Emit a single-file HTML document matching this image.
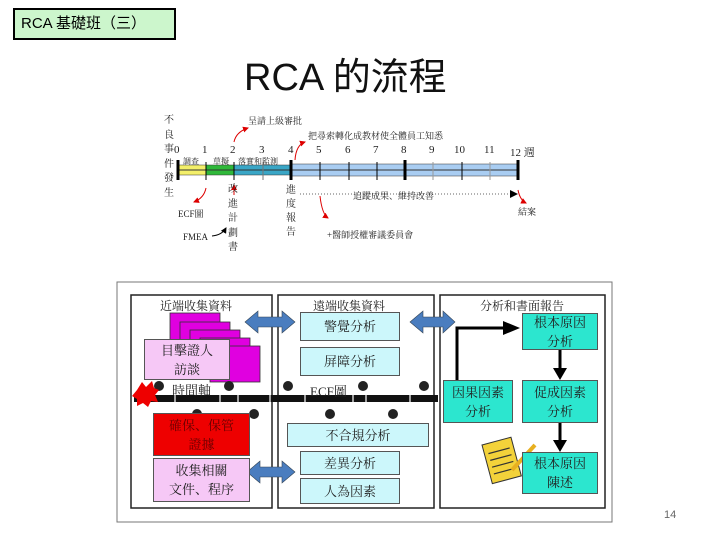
<!DOCTYPE html>
<html><head><meta charset="utf-8"><style>
body{margin:0;width:720px;height:540px;background:#fff;position:relative;overflow:hidden;font-family:"Liberation Sans","Noto Sans CJK TC",sans-serif}
.a{position:absolute}
.t{position:absolute;font-family:"Liberation Serif","Noto Serif CJK SC",serif;font-size:9px;color:#222;white-space:nowrap}
.bx{position:absolute;box-sizing:border-box;border:1px solid #555;display:flex;align-items:center;justify-content:center;text-align:center;font-family:"Liberation Serif","Noto Serif CJK SC",serif;font-size:13px;line-height:19px;color:#222}
.c{background:#ccf7fb}
.g{background:#2ce6cf}
</style></head><body>
<div class="a" style="left:13px;top:8px;height:28px;border:2px solid #000;background:#ccf6cc;font-size:15px;line-height:28px;padding-left:6px;width:153px">RCA 基礎班（三）</div>
<div class="a" style="left:244px;top:46px;font-size:38px;color:#111">RCA 的流程</div>

<svg class="a" style="left:0;top:0" width="720" height="540">
<defs><marker id="m" markerWidth="6" markerHeight="6" refX="5" refY="3" orient="auto"><path d="M0,0L6,3L0,6z" fill="#000"/></marker>
<marker id="r" markerWidth="6" markerHeight="6" refX="5" refY="3" orient="auto"><path d="M0,0L6,3L0,6z" fill="#d00"/></marker></defs>
<rect x="178" y="165" width="28" height="10" fill="#f3ef6a" stroke="#333" stroke-width=".5"/>
<rect x="206" y="165" width="28" height="10" fill="#2fb83a" stroke="#333" stroke-width=".5"/>
<rect x="234" y="165" width="57" height="10" fill="#3aa6c6" stroke="#333" stroke-width=".5"/>
<rect x="291" y="164" width="227" height="12" fill="#a9cdf2" stroke="#333" stroke-width=".5"/>
<line x1="178" y1="170" x2="518" y2="170" stroke="#333" stroke-width="1"/>
<g stroke="#000" stroke-width="1">
<line x1="178" y1="160" x2="178" y2="180" stroke-width="3"/><line x1="206" y1="162" x2="206" y2="180"/><line x1="234" y1="162" x2="234" y2="180"/><line x1="263" y1="162" x2="263" y2="180" stroke="#777"/><line x1="291" y1="160" x2="291" y2="180" stroke-width="3"/><line x1="320" y1="162" x2="320" y2="180"/><line x1="349" y1="162" x2="349" y2="180"/><line x1="377" y1="162" x2="377" y2="180"/><line x1="405" y1="160" x2="405" y2="180" stroke-width="3"/><line x1="433" y1="162" x2="433" y2="180" stroke="#999"/><line x1="462" y1="162" x2="462" y2="180"/><line x1="490" y1="162" x2="490" y2="180" stroke="#999"/><line x1="518" y1="160" x2="518" y2="180" stroke-width="3"/>
</g>
<line x1="300" y1="194" x2="510" y2="194" stroke="#666" stroke-dasharray="1,2"/><path d="M510,190L518,194L510,198z"/>
<g stroke="#d00" fill="none" stroke-width="1"><path d="M206,188Q204,198 194,202" marker-end="url(#r)"/><path d="M234,142Q236,132 248,128" marker-end="url(#r)"/><path d="M295,160Q296,145 305,142" marker-end="url(#r)"/><path d="M320,196Q322,214 328,218" marker-end="url(#r)"/><path d="M518,190Q520,200 526,203" marker-end="url(#r)"/><path d="M234,195L234,185" marker-end="url(#r)"/></g>
<path d="M212,236Q222,235 226,228" stroke="#000" fill="none" marker-end="url(#m)"/>

<rect x="117" y="282" width="495" height="240" fill="none" stroke="#777"/>
<rect x="131" y="295" width="141" height="213" fill="none" stroke="#222" stroke-width="1.5"/>
<rect x="278" y="295" width="156" height="213" fill="none" stroke="#222" stroke-width="1.5"/>
<rect x="440" y="295" width="165" height="213" fill="none" stroke="#222" stroke-width="1.5"/>
<g fill="#e000e0" stroke="#333" stroke-width=".8">
<rect x="170" y="313" width="50" height="40"/><rect x="180" y="322" width="50" height="40"/><rect x="190" y="330" width="50" height="40"/><rect x="200" y="338" width="50" height="40"/><rect x="210" y="346" width="50" height="36"/></g>
<rect x="134" y="395" width="304" height="7" fill="#111"/>
<g stroke="#fff" stroke-width="1.2"><line x1="175" y1="395" x2="175" y2="402"/><line x1="220" y1="395" x2="220" y2="402"/><line x1="238" y1="395" x2="238" y2="402"/><line x1="270" y1="395" x2="270" y2="402"/><line x1="305" y1="395" x2="305" y2="402"/><line x1="353" y1="395" x2="353" y2="402"/><line x1="366" y1="395" x2="366" y2="402"/><line x1="410" y1="395" x2="410" y2="402"/></g>
<g fill="#222"><circle cx="159" cy="386" r="5"/><circle cx="229" cy="386" r="5"/><circle cx="288" cy="386" r="5"/><circle cx="363" cy="386" r="5"/><circle cx="424" cy="386" r="5"/><circle cx="197" cy="414" r="5"/><circle cx="254" cy="414" r="5"/><circle cx="330" cy="414" r="5"/><circle cx="393" cy="414" r="5"/></g>
<path d="M137,390l5,-8 4,5 6,-6 2,7 5,2 -4,5 3,7 -7,-1 -3,6 -5,-4 -6,3 0,-7 -5,-3z" fill="#e00"/>
<g fill="#4a7dbf" stroke="#345" stroke-width=".6">
<path d="M245,322l13,-11v6h24v-6l13,11 -13,11v-6h-24v6z"/>
<path d="M247,472l13,-11v6h22v-6l13,11 -13,11v-6h-22v6z"/>
<path d="M410,322l13,-11v6h20v-6l12,11 -12,11v-6h-20v6z"/></g>
<g stroke="#000" stroke-width="3" fill="none"><path d="M457,380V328H505"/><line x1="560" y1="350" x2="560" y2="370"/><line x1="560" y1="423" x2="560" y2="442"/></g>
<g fill="#000"><path d="M503,321l17,7 -17,7z"/><path d="M553,368l7,12 7,-12z"/><path d="M553,440l7,12 7,-12z"/></g>
<g transform="translate(482,445) rotate(-15)"><rect x="0" y="0" width="30" height="40" fill="#f3d23a" stroke="#333"/><path d="M4,10h22M4,17h22M4,24h22M4,31h22" stroke="#333" stroke-width="1.2"/></g>
<line x1="512" y1="470" x2="535" y2="445" stroke="#e8b020" stroke-width="4"/>
</svg>

<div class="t" style="left:164px;top:114px;width:10px;white-space:normal;line-height:14.5px;font-size:10px">不良事件發生</div>
<div class="t" style="left:174px;top:144px;font-size:11px">0</div>
<div class="t" style="left:202px;top:144px;font-size:11px">1</div>
<div class="t" style="left:230px;top:144px;font-size:11px">2</div>
<div class="t" style="left:259px;top:144px;font-size:11px">3</div>
<div class="t" style="left:288px;top:144px;font-size:11px">4</div>
<div class="t" style="left:316px;top:144px;font-size:11px">5</div>
<div class="t" style="left:345px;top:144px;font-size:11px">6</div>
<div class="t" style="left:373px;top:144px;font-size:11px">7</div>
<div class="t" style="left:401px;top:144px;font-size:11px">8</div>
<div class="t" style="left:429px;top:144px;font-size:11px">9</div>
<div class="t" style="left:454px;top:144px;font-size:11px">10</div>
<div class="t" style="left:484px;top:144px;font-size:11px">11</div>
<div class="t" style="left:510px;top:144px;font-size:11px">12 週</div>
<div class="t" style="left:183px;top:156px;font-size:8px">調查</div>
<div class="t" style="left:213px;top:156px;font-size:8px">草擬</div>
<div class="t" style="left:238px;top:156px;font-size:8px">落實和監測</div>
<div class="t" style="left:248px;top:114px">呈請上級審批</div>
<div class="t" style="left:308px;top:129px">把尋索轉化成教材使全體員工知悉</div>
<div class="t" style="left:353px;top:189px">追蹤成果、維持改善</div>
<div class="t" style="left:228px;top:183px;width:10px;white-space:normal;line-height:14.5px;font-size:10px">改進計劃書</div>
<div class="t" style="left:286px;top:184px;width:10px;white-space:normal;line-height:14px;font-size:10px">進度報告</div>
<div class="t" style="left:178px;top:207px">ECF圖</div>
<div class="t" style="left:183px;top:232px">FMEA</div>
<div class="t" style="left:327px;top:228px">+醫師授權審議委員會</div>
<div class="t" style="left:518px;top:205px">結案</div>

<div class="t" style="left:160px;top:297px;font-size:12px">近端收集資料</div>
<div class="t" style="left:313px;top:297px;font-size:12px">遠端收集資料</div>
<div class="t" style="left:480px;top:297px;font-size:12px">分析和書面報告</div>
<div class="t" style="left:172px;top:380px;font-size:13px">時間軸</div>
<div class="t" style="left:310px;top:381px;font-size:13px">ECF圖</div>

<div class="bx" style="left:144px;top:339px;width:86px;height:41px;background:#f6c8f6">目擊證人<br>訪談</div>
<div class="bx" style="left:153px;top:413px;width:97px;height:43px;background:#ee0000;color:#600">確保、保管<br>證據</div>
<div class="bx" style="left:153px;top:458px;width:97px;height:44px;background:#f6c8f6">收集相關<br>文件、程序</div>
<div class="bx c" style="left:300px;top:312px;width:100px;height:29px">警覺分析</div>
<div class="bx c" style="left:300px;top:347px;width:100px;height:29px">屏障分析</div>
<div class="bx c" style="left:287px;top:423px;width:142px;height:24px">不合規分析</div>
<div class="bx c" style="left:300px;top:451px;width:100px;height:24px">差異分析</div>
<div class="bx c" style="left:300px;top:478px;width:100px;height:26px">人為因素</div>
<div class="bx g" style="left:443px;top:380px;width:70px;height:43px">因果因素<br>分析</div>
<div class="bx g" style="left:522px;top:313px;width:76px;height:37px">根本原因<br>分析</div>
<div class="bx g" style="left:522px;top:380px;width:76px;height:43px">促成因素<br>分析</div>
<div class="bx g" style="left:522px;top:452px;width:76px;height:42px">根本原因<br>陳述</div>
<div class="a" style="left:664px;top:509px;font-size:11px;color:#666">14</div>
</body></html>
